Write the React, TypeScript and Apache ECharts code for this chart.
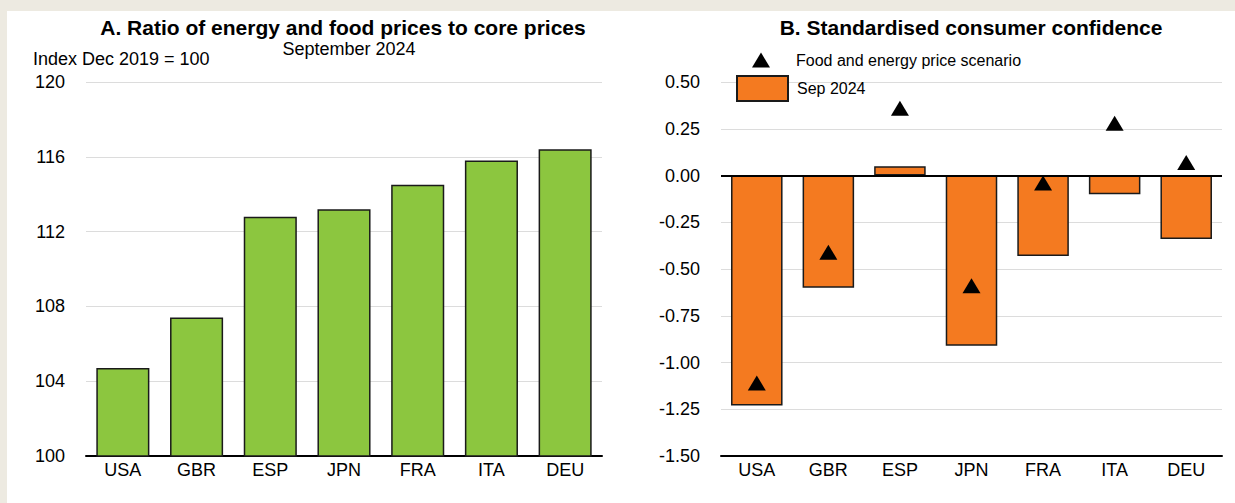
import React, { useEffect, useRef } from "react";
import * as echarts from "echarts";

const categories = ["USA", "GBR", "ESP", "JPN", "FRA", "ITA", "DEU"];
const priceRatio = [104.7, 107.4, 112.8, 113.2, 114.5, 115.8, 116.4];
const confidenceSep2024 = [-1.23, -0.6, 0.05, -0.91, -0.43, -0.1, -0.34];
const confidenceScenario = [-1.11, -0.41, 0.36, -0.59, -0.04, 0.28, 0.07];
const titleA = "A. Ratio of energy and food prices to core prices";
const subtitleA = "September 2024";
const unitA = "Index Dec 2019 = 100";
const titleB = "B. Standardised consumer confidence";
const seriesScenario = "Food and energy price scenario";
const seriesSep = "Sep 2024";

const FONT = "'Liberation Sans', Arial, sans-serif";
const GREEN = "#8CC63F";
const ORANGE = "#F47A20";
const BORDER = "#1a1a1a";

export default function App() {
  const ref = useRef<HTMLDivElement>(null);
  useEffect(() => {
    if (!ref.current) return;
    const chart = echarts.init(ref.current, null, { renderer: "svg" });
    const axisLabel = { color: "#000", fontSize: 18, fontFamily: FONT };
    const option: any = {
      animation: false,
      backgroundColor: "#EDEAE1",
      textStyle: { fontFamily: FONT },
      graphic: [
        {
          type: "rect",
          left: 7,
          top: 11,
          shape: { width: 1228, height: 492 },
          style: { fill: "#fff" },
          z: -10,
        },
      ],
      title: [
        {
          text: titleA,
          left: 338,
          textAlign: "center",
          top: 12,
          textStyle: { fontSize: 21, fontWeight: "bold", color: "#000", fontFamily: FONT },
        },
        {
          text: subtitleA,
          left: 344,
          textAlign: "center",
          top: 35,
          textStyle: { fontSize: 18, fontWeight: "normal", color: "#000", fontFamily: FONT },
        },
        {
          text: unitA,
          left: 28,
          top: 45,
          textStyle: { fontSize: 18, fontWeight: "normal", color: "#000", fontFamily: FONT },
        },
        {
          text: titleB,
          left: 966,
          textAlign: "center",
          top: 12,
          textStyle: { fontSize: 21, fontWeight: "bold", color: "#000", fontFamily: FONT },
        },
      ],
      legend: [
        {
          data: [{ name: seriesScenario, icon: "triangle" }],
          left: 747,
          top: 46,
          itemWidth: 18,
          itemHeight: 15,
          textStyle: { fontSize: 16, color: "#000", fontFamily: FONT, padding: [0, 0, 0, 21], lineHeight: 18 },
        },
        {
          data: [{ name: seriesSep, icon: "rect" }],
          left: 731,
          top: 70,
          itemWidth: 51,
          itemHeight: 25,
          textStyle: { fontSize: 16, color: "#000", fontFamily: FONT, padding: [0, 0, 0, 4] },
        },
      ],
      grid: [
        { left: 86, right: 1235 - 602, top: 82, bottom: 47 },
        { left: 721, right: 1235 - 1222, top: 82, bottom: 47 },
      ],
      xAxis: [
        {
          gridIndex: 0,
          type: "category",
          data: categories,
          axisLine: { lineStyle: { color: "#000", width: 2 } },
          axisTick: { show: false },
          axisLabel: { ...axisLabel, margin: 5 },
        },
        {
          gridIndex: 1,
          type: "category",
          data: categories,
          axisLine: { onZero: false, lineStyle: { color: "#000", width: 2 } },
          axisTick: { show: false },
          axisLabel: { ...axisLabel, margin: 5 },
        },
      ],
      yAxis: [
        {
          gridIndex: 0,
          type: "value",
          min: 100,
          max: 120,
          interval: 4,
          axisLine: { show: false },
          axisTick: { show: false },
          axisLabel: { ...axisLabel, margin: 21 },
          splitLine: { lineStyle: { color: "#dcdcdc", width: 1 } },
        },
        {
          gridIndex: 1,
          type: "value",
          min: -1.5,
          max: 0.5,
          interval: 0.25,
          axisLine: { show: false },
          axisTick: { show: false },
          axisLabel: { ...axisLabel, margin: 21, formatter: (v: number) => v.toFixed(2) },
          splitLine: { lineStyle: { color: "#dcdcdc", width: 1 } },
        },
      ],
      series: [
        {
          type: "bar",
          name: "ratio",
          xAxisIndex: 0,
          yAxisIndex: 0,
          data: priceRatio,
          barWidth: "72%",
          itemStyle: { color: GREEN, borderColor: BORDER, borderWidth: 1.5 },
        },
        {
          type: "bar",
          name: seriesSep,
          xAxisIndex: 1,
          yAxisIndex: 1,
          data: confidenceSep2024,
          barWidth: "72%",
          itemStyle: { color: ORANGE, borderColor: BORDER, borderWidth: 1.5 },
          markLine: {
            silent: true,
            symbol: "none",
            label: { show: false },
            lineStyle: { color: "#000", width: 2, type: "solid" },
            data: [{ yAxis: 0 }],
            z: 5,
          },
        },
        {
          type: "scatter",
          name: seriesScenario,
          xAxisIndex: 1,
          yAxisIndex: 1,
          data: confidenceScenario,
          symbol: "triangle",
          symbolSize: [18, 15],
          itemStyle: { color: "#000", opacity: 1 },
          z: 10,
        },
      ],
    };
    chart.setOption(option);
    return () => chart.dispose();
  }, []);
  return (
    <div
      ref={ref}
      style={{ position: "absolute", left: 0, top: 0, width: 1235, height: 503 }}
    />
  );
}
